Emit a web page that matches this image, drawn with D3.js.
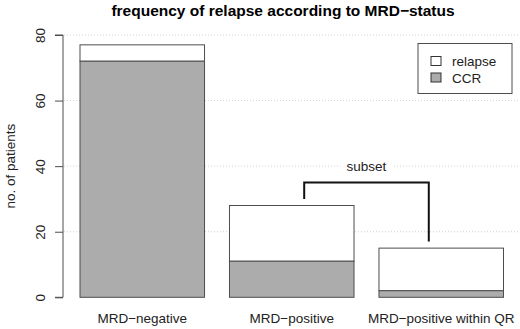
<!DOCTYPE html>
<html>
<head>
<meta charset="utf-8">
<script src="https://cdn.jsdelivr.net/npm/d3@7"></script>
<style>
  body { margin: 0; background: #fff; }
  svg { font-family: "Liberation Sans", Arial, sans-serif; }
</style>
</head>
<body>
<svg id="chart" width="520" height="329"></svg>
<script>
const categories = ['MRD\u2212negative', 'MRD\u2212positive', 'MRD\u2212positive within QR'];
const ccr = [72, 11, 2];
const relapse = [5, 17, 13];
const yTicks = [0, 20, 40, 60, 80];
const gridTicks = [20, 40, 60, 80];
const legendLabels = ['relapse', 'CCR'];
// bracket: [left leg bottom, top, right leg bottom] in patients
const bracketLevels = [30, 35, 17];

const width = 520;
const height = 329;
const fs = 13.5;
const svg = d3.select('svg#chart');

const x = d3.scaleBand()
  .domain(categories)
  .range([80, 503.5])
  .paddingInner(0.167)
  .paddingOuter(0);

const y = d3.scaleLinear()
  .domain([0, 80])
  .range([297.3, 35]);

// dotted grid
svg.selectAll('line.grid').data(gridTicks).enter()
  .append('line')
  .attr('class', 'grid')
  .attr('x1', 64).attr('x2', width)
  .attr('y1', d => y(d)).attr('y2', d => y(d))
  .attr('stroke', '#d3d3d3')
  .attr('stroke-dasharray', '1,2');

// stacked bars
const stacked = categories.map((c, i) => ({cat: c, ccr: ccr[i], total: ccr[i] + relapse[i]}));

svg.selectAll('rect.relapse').data(stacked).enter()
  .append('rect')
  .attr('class', 'relapse')
  .attr('x', d => x(d.cat))
  .attr('width', x.bandwidth())
  .attr('y', d => y(d.total))
  .attr('height', d => y(d.ccr) - y(d.total))
  .attr('fill', '#fff')
  .attr('stroke', '#4d4d4d');

svg.selectAll('rect.ccr').data(stacked).enter()
  .append('rect')
  .attr('class', 'ccr')
  .attr('x', d => x(d.cat))
  .attr('width', x.bandwidth())
  .attr('y', d => y(d.ccr))
  .attr('height', d => y(0) - y(d.ccr))
  .attr('fill', '#acacac')
  .attr('stroke', '#4d4d4d');

// y axis
const yAxis = d3.axisLeft(y).tickValues(yTicks).tickSize(8).tickFormat(d3.format('d'));
const gy = svg.append('g').attr('transform', 'translate(63,0)').call(yAxis);
gy.select('.domain').attr('stroke', '#4d4d4d').attr('d', `M-8,${y(0)}H0V${y(80)}H-8`);
gy.selectAll('.tick line').attr('stroke', '#4d4d4d');
gy.selectAll('.tick text')
  .attr('font-size', fs)
  .attr('fill', '#222')
  .attr('text-anchor', 'middle')
  .attr('dy', 0)
  .attr('x', 0)
  .attr('transform', 'translate(-18,0) rotate(-90)');

svg.append('text')
  .attr('transform', `translate(15,${(y(0) + y(80)) / 2}) rotate(-90)`)
  .attr('text-anchor', 'middle')
  .attr('font-size', fs)
  .attr('fill', '#222')
  .text('no. of patients');

// category labels
svg.selectAll('text.cat').data(categories).enter()
  .append('text')
  .attr('class', 'cat')
  .attr('x', d => x(d) + x.bandwidth() / 2)
  .attr('y', 322.5)
  .attr('text-anchor', 'middle')
  .attr('font-size', fs)
  .attr('fill', '#222')
  .text(d => d);

// title
svg.append('text')
  .attr('x', 283)
  .attr('y', 16)
  .attr('text-anchor', 'middle')
  .attr('font-size', 15.5)
  .attr('font-weight', 'bold')
  .text('frequency of relapse according to MRD\u2212status');

// subset bracket
const bx1 = x(categories[1]) + x.bandwidth() * 0.6;
const bx2 = x(categories[2]) + x.bandwidth() * 0.4;
svg.append('path')
  .attr('d', `M${bx1},${y(bracketLevels[0])}V${y(bracketLevels[1])}H${bx2}V${y(bracketLevels[2])}`)
  .attr('fill', 'none')
  .attr('stroke', '#111')
  .attr('stroke-width', 2);

const sx = (bx1 + bx2) / 2;
svg.append('rect')
  .attr('x', sx - 26).attr('y', y(40) - 6)
  .attr('width', 52).attr('height', 12)
  .attr('fill', '#fff');
svg.append('text')
  .attr('x', sx)
  .attr('y', y(40) + 5)
  .attr('text-anchor', 'middle')
  .attr('font-size', fs)
  .attr('fill', '#222')
  .text('subset');

// legend
const lg = svg.append('g').attr('transform', 'translate(418,43.5)');
lg.append('rect')
  .attr('width', 94).attr('height', 50)
  .attr('fill', '#fff')
  .attr('stroke', '#4d4d4d');
const legendFill = ['#fff', '#acacac'];
lg.selectAll('rect.key').data(legendLabels).enter()
  .append('rect')
  .attr('class', 'key')
  .attr('x', 13).attr('y', (d, i) => 13 + i * 16.5)
  .attr('width', 10).attr('height', 9)
  .attr('fill', (d, i) => legendFill[i])
  .attr('stroke', '#333');
lg.selectAll('text').data(legendLabels).enter()
  .append('text')
  .attr('x', 34).attr('y', (d, i) => 22.5 + i * 16.5)
  .attr('font-size', fs)
  .attr('fill', '#222')
  .text(d => d);
</script>
</body>
</html>
